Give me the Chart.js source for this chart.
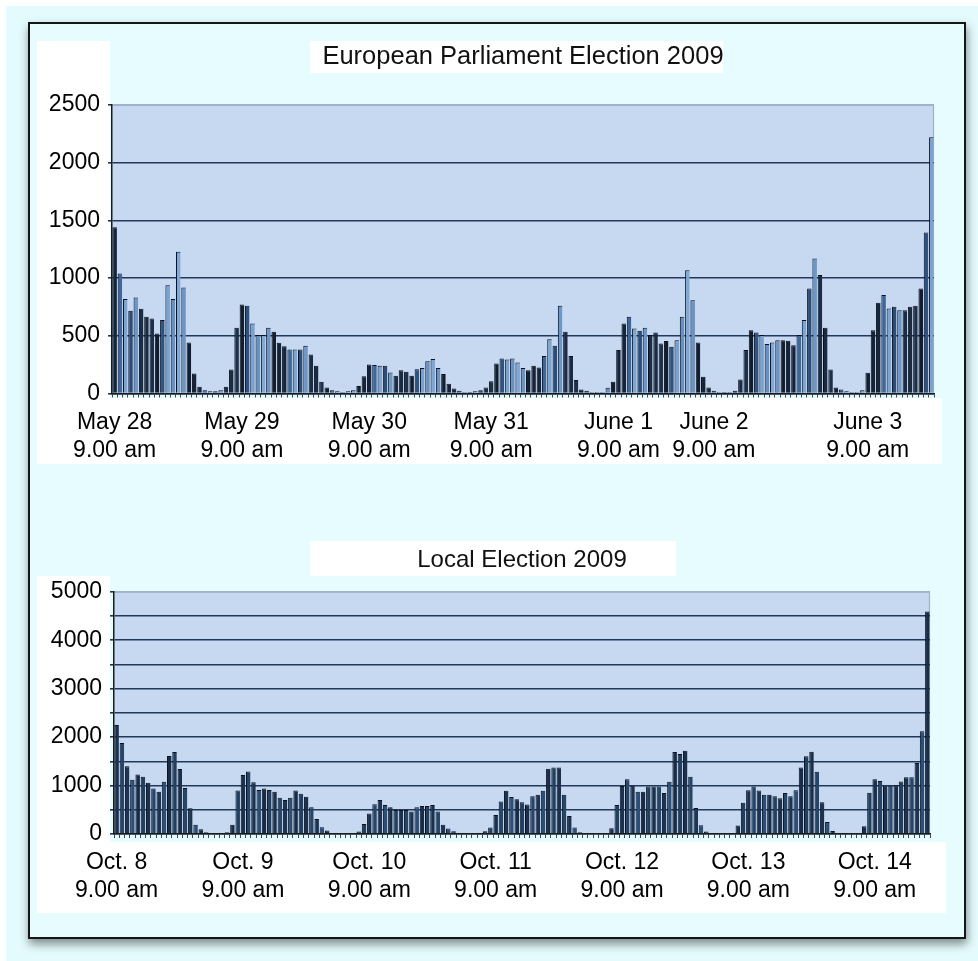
<!DOCTYPE html>
<html>
<head>
<meta charset="utf-8">
<title>Votes per hour — European Parliament Election 2009 and Local Election 2009</title>
<script src="https://cdn.jsdelivr.net/npm/chart.js@4.4.1/dist/chart.umd.min.js"></script>
<style>
  html, body { margin: 0; padding: 0; background: #ffffff; }
  body { width: 978px; height: 961px; position: relative; overflow: hidden; }
  .sheet { position: absolute; left: 6px; top: 6px; width: 972px; height: 955px; background: #e4fbfd; }
  .frame { position: absolute; left: 28px; top: 22px; width: 934px; height: 913px;
           border: 2px solid #161616; background: #e7fcfe;
           box-shadow: 1px 5px 9px rgba(0, 0, 0, 0.45); }
  .box { position: absolute; background: #ffffff; }
  canvas { position: absolute; left: 0; }
</style>
</head>
<body>
<div class="sheet"></div>
<div class="frame"></div>

<!-- white label panels, European chart -->
<div class="box" style="left:310px; top:41px; width:413px; height:32px;"></div>
<div class="box" style="left:37px; top:41px; width:73px; height:364px;"></div>
<div class="box" style="left:37px; top:398px; width:905px; height:66px;"></div>

<!-- white label panels, local chart -->
<div class="box" style="left:310px; top:541px; width:366px; height:35px;"></div>
<div class="box" style="left:37px; top:576px; width:73px; height:270px;"></div>
<div class="box" style="left:37px; top:842px; width:909px; height:71px;"></div>

<canvas id="euChart" width="978" height="480" style="top:0px;"></canvas>
<canvas id="localChart" width="978" height="481" style="top:480px;"></canvas>

<script>
// Hourly vote counts, one bar per hour starting at 9.00 am on the first day.

// European Parliament Election 2009, from May 28 9.00 am
const euVotes = [
  1440, 1040, 818, 717, 832, 734, 665, 650, 520, 636,
  939, 818, 1228, 919, 442, 173, 58, 29, 20, 20,
  29, 58, 208, 569, 772, 760, 607, 506, 506, 569,
  535, 439, 410, 381, 381, 381, 413, 338, 240,
  101, 52, 29, 20, 14, 20, 29, 66, 150, 251,
  246, 240, 240, 182, 153, 202, 188, 153, 211, 222,
  280, 298, 222, 168, 84, 43, 23, 14, 14, 20,
  29, 52, 107, 260, 303, 295, 303, 269, 222, 202,
  240, 225, 324, 471, 413, 760, 535, 324, 116, 35,
  23, 14, 14, 14, 49, 101, 376, 607, 665, 564,
  543, 569, 506, 529, 434, 454, 405, 462, 665, 1069,
  809, 442, 145, 52, 23, 14, 14, 14, 23,
  121, 376, 549, 529, 506, 428, 442, 462, 462, 457,
  419, 506, 636, 910, 1170, 1026, 569, 208, 52, 35,
  20, 14, 14, 29, 179, 549, 786, 853, 737, 751,
  722, 722, 751, 760, 910, 1396, 2220
];

// Local Election 2009, from Oct. 8 9.00 am
const localVotes = [
  2250, 1880, 1400, 1120, 1230, 1180, 1060, 940, 870, 1080,
  1610, 1690, 1340, 950, 530, 190, 100, 35, 20, 14,
  14, 35, 190, 900, 1220, 1290, 1070, 910, 940, 910,
  870, 750, 700, 750, 900, 830, 770, 550, 310,
  140, 70, 20, 14, 7, 7, 14, 50, 205, 425,
  615, 700, 600, 550, 495, 495, 495, 465, 550, 580,
  580, 600, 465, 190, 115, 55, 20, 14, 7, 7,
  20, 55, 135, 390, 670, 890, 765, 715, 655, 610,
  780, 810, 890, 1345, 1370, 1370, 810, 370, 135, 34,
  14, 7, 7, 7, 21, 120, 600, 990, 1130, 995,
  870, 870, 980, 980, 980, 845, 1080, 1690, 1650, 1720,
  1180, 534, 183, 50, 21, 14, 7, 7, 21,
  176, 643, 905, 980, 900, 811, 811, 778, 737, 845,
  778, 905, 1370, 1605, 1696, 1284, 655, 250, 60, 21,
  14, 7, 7, 21, 162, 852, 1132, 1095, 1000, 997,
  1007, 1082, 1170, 1170, 1467, 2122, 4590
];

// Day captions under the x axis and the hour (bar) each one belongs to
const euDayLabels = [
  ["May 28", "9.00 am"], ["May 29", "9.00 am"], ["May 30", "9.00 am"], ["May 31", "9.00 am"],
  ["June 1", "9.00 am"], ["June 2", "9.00 am"], ["June 3", "9.00 am"]
];
const euDayHours = [0, 24, 48, 71, 95, 113, 142];

const localDayLabels = [
  ["Oct. 8", "9.00 am"], ["Oct. 9", "9.00 am"], ["Oct. 10", "9.00 am"], ["Oct. 11", "9.00 am"],
  ["Oct. 12", "9.00 am"], ["Oct. 13", "9.00 am"], ["Oct. 14", "9.00 am"]
];
const localDayHours = [0, 24, 48, 72, 96, 120, 144];

// Value axes
const euAxisMax = 2500, euAxisStep = 500, euLabelStep = 500;
const localAxisMax = 5000, localAxisStep = 500, localLabelStep = 1000;

// Bar fill shades (cycled bar by bar)
const euShades = ['#16243a', '#3e6899', '#7da5d2', '#2c4d77', '#6d97c8', '#1b2c44', '#1a2a40', '#1d3049',
                  '#121c2c', '#2f5380', '#7aa2d0', '#6890c0', '#80a8d6', '#6b93c3', '#131e2e', '#162336'];
const localShades = ['#1a304d', '#264669', '#1c3452', '#2c4f78', '#182c47', '#21405f'];

const FONT = '"Liberation Sans", Arial, Helvetica, sans-serif';

// Light-blue plot area with a thin top/right edge
const plotBackdrop = {
  id: 'plotBackdrop',
  beforeDraw(chart, args, opts) {
    const { ctx, chartArea: a } = chart;
    ctx.save();
    ctx.fillStyle = opts.color;
    ctx.fillRect(a.left, a.top, a.width, a.height);
    ctx.strokeStyle = opts.edge;
    ctx.lineWidth = 1.2;
    ctx.beginPath();
    ctx.moveTo(a.left, a.top + 0.5);
    ctx.lineTo(a.right - 0.5, a.top + 0.5);
    ctx.lineTo(a.right - 0.5, a.bottom);
    ctx.stroke();
    ctx.restore();
  }
};

function buildChart(id, cfg) {
  const labelAt = new Map(cfg.dayHours.map((h, i) => [h, cfg.dayLabels[i]]));
  return new Chart(document.getElementById(id), {
    type: 'bar',
    data: {
      labels: cfg.values.map((_, i) => i),
      datasets: [{
        data: cfg.values,
        backgroundColor: c => cfg.shades[c.dataIndex % cfg.shades.length],
        borderColor: '#0a111c',
        borderWidth: { left: 1, top: 1, right: 0, bottom: 0 },
        barPercentage: 0.86,
        categoryPercentage: 1.0
      }]
    },
    options: {
      responsive: false,
      animation: false,
      events: [],
      layout: { padding: cfg.padding },
      plugins: {
        legend: { display: false },
        tooltip: { enabled: false },
        title: {
          display: true,
          fullSize: false,
          text: cfg.title,
          color: '#111111',
          font: { family: FONT, size: cfg.titleSize, weight: 'normal', lineHeight: 1.2 },
          padding: cfg.titlePadding
        },
        plotBackdrop: { color: '#c6d9f1', edge: '#9fb2cb' }
      },
      scales: {
        x: {
          grid: { display: true, drawOnChartArea: false, drawTicks: true, tickLength: 4, tickColor: '#3a4658' },
          border: { display: true, color: '#1a1a1a', width: 1.5 },
          ticks: {
            autoSkip: false, maxRotation: 0, minRotation: 0, padding: 11,
            color: '#000000',
            font: { family: FONT, size: 23, lineHeight: 1.22 },
            callback: (v, i) => labelAt.get(i) || ''
          },
          afterFit: s => { s.height = cfg.xAxisHeight; }
        },
        y: {
          min: 0, max: cfg.max,
          grid: {
            color: c => c.tick.value === cfg.max ? '#9fb2cb' : '#22385a',
            lineWidth: 1.6,
            drawTicks: true, tickLength: 4, tickColor: '#2a3443'
          },
          border: { display: true, color: '#1a1a1a', width: 1.5 },
          ticks: {
            autoSkip: false,
            stepSize: cfg.step, padding: 8, color: '#000000',
            font: { family: FONT, size: 23 },
            callback: v => (v % cfg.labelStep === 0 ? String(v) : '')
          },
          afterFit: s => { s.width = 75; }
        }
      }
    },
    plugins: [plotBackdrop]
  });
}

buildChart('euChart', {
  title: 'European Parliament Election 2009',
  titleSize: 25.5,
  values: euVotes, dayLabels: euDayLabels, dayHours: euDayHours,
  max: euAxisMax, step: euAxisStep, labelStep: euLabelStep,
  shades: euShades,
  padding: { left: 37, right: 44, top: 0, bottom: 0 },
  titlePadding: { top: 41.7, bottom: 32.7 },
  xAxisHeight: 86.5
});

buildChart('localChart', {
  title: 'Local Election 2009',
  titleSize: 24,
  values: localVotes, dayLabels: localDayLabels, dayHours: localDayHours,
  max: localAxisMax, step: localAxisStep, labelStep: localLabelStep,
  shades: localShades,
  padding: { left: 39, right: 48, top: 0, bottom: 0 },
  titlePadding: { top: 65.6, bottom: 17.3 },
  xAxisHeight: 127
});
</script>
</body>
</html>
